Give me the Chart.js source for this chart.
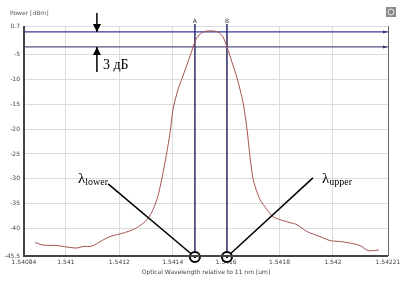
<!DOCTYPE html>
<html>
<head>
<meta charset="utf-8">
<script src="https://cdn.jsdelivr.net/npm/chart.js@4/dist/chart.umd.min.js"></script>
<style>
  html, body { margin: 0; padding: 0; background: #fff; }
  #wrap { width: 414px; height: 293px; }
</style>
</head>
<body>
<div id="wrap"><canvas id="c" width="414" height="293"></canvas></div>
<script>
// spectrum (wavelength in um, power in dBm)
const wavelength = [1.540884, 1.540914, 1.540967, 1.541004, 1.541041, 1.541064, 1.541098, 1.541128,
  1.541165, 1.541214, 1.541251, 1.541277, 1.541304, 1.541326, 1.541345, 1.541371, 1.541390,
  1.541401, 1.541420, 1.541435, 1.541465, 1.541483, 1.541495, 1.541513, 1.541532, 1.541551,
  1.541569, 1.541588, 1.541603, 1.541622, 1.541641, 1.541663, 1.541678, 1.541689, 1.541701,
  1.541715, 1.541727, 1.541753, 1.541775, 1.541802, 1.541839, 1.541865, 1.541903, 1.541951,
  1.541989, 1.542026, 1.542064, 1.542101, 1.542131, 1.542157, 1.542172];
const power = [-42.8, -43.3, -43.4, -43.7, -43.9, -43.6, -43.5, -42.6,
  -41.6, -40.9, -40.2, -39.4, -38.2, -36.2, -33.4, -26.7, -20.7,
  -16.0, -12.0, -9.8, -5.3, -2.5, -1.3, -0.5, -0.3, -0.3,
  -0.5, -1.5, -3.5, -6.6, -9.8, -14.6, -20.0, -25.5, -30.1,
  -32.6, -34.2, -36.2, -37.6, -38.2, -38.8, -39.2, -40.6, -41.6,
  -42.4, -42.6, -42.9, -43.4, -44.4, -44.4, -44.3];

// cursors
const cursorNames = ["A", "B"];
const cursorX = [1.541483, 1.541603];
const levelY = [-0.5, -3.5];

// axes
const xMin = 1.540843, xMax = 1.542206;
const yMin = -45.5, yMax = 0.7;
const xTicks = [1.540843, 1.541, 1.5412, 1.5414, 1.5416, 1.5418, 1.542, 1.542206];
const xTickLabels = ["1.54084", "1.541", "1.5412", "1.5414", "1.5416", "1.5418", "1.542", "1.54221"];
const yTicks = [0.7, -5, -10, -15, -20, -25, -30, -35, -40, -45.5];
const yTickLabels = ["0.7", "-5", "-10", "-15", "-20", "-25", "-30", "-35", "-40", "-45.5"];

const curve = wavelength.map((w, i) => ({ x: w, y: power[i] }));

const datasets = [
  {
    data: curve,
    borderColor: "#a5524e",
    borderWidth: 1,
    pointRadius: 0,
    tension: 0.25
  }
];
levelY.forEach((v, i) => {
  datasets.push({
    data: [{ x: xMin, y: v }, { x: xMax, y: v }],
    borderColor: i === 0 ? "#3b3b9c" : "#54547e",
    borderWidth: 1.2,
    pointRadius: 0
  });
});
cursorX.forEach(v => {
  datasets.push({
    data: [{ x: v, y: yMin }, { x: v, y: yMax + 0.4 }],
    borderColor: "#2c2c6e",
    borderWidth: 1.5,
    pointRadius: 0,
    clip: false
  });
});

const extras = {
  id: "extras",
  afterDraw(chart) {
    const ctx = chart.ctx;
    const xs = chart.scales.x, ys = chart.scales.y;
    const px = v => xs.getPixelForValue(v);
    const py = v => ys.getPixelForValue(v);
    const a = chart.chartArea;
    ctx.save();

    // axis title on y
    ctx.fillStyle = "#555";
    ctx.font = "6px 'DejaVu Sans'";
    ctx.textAlign = "left";
    ctx.textBaseline = "middle";
    ctx.fillText("Power [dBm]", 10, 13);

    // icon top right
    ctx.fillStyle = "#8a8a8a";
    ctx.fillRect(386, 7, 10, 10);
    ctx.strokeStyle = "#eee";
    ctx.lineWidth = 1;
    ctx.beginPath();
    ctx.arc(391, 12, 3, 0, Math.PI * 2);
    ctx.stroke();

    // cursor names
    ctx.fillStyle = "#333";
    ctx.font = "6px 'DejaVu Sans'";
    ctx.textAlign = "center";
    cursorNames.forEach((n, i) => ctx.fillText(n, px(cursorX[i]), a.top - 5));

    // small markers at right end of level lines
    ctx.fillStyle = "#2c2c6e";
    levelY.forEach(v => {
      const y = py(v);
      ctx.beginPath();
      ctx.moveTo(a.right - 1, y);
      ctx.lineTo(a.right - 5, y - 1.5);
      ctx.lineTo(a.right - 5, y + 1.5);
      ctx.closePath();
      ctx.fill();
    });

    // 3 dB arrow
    const ax = px(1.541116);
    const yTop = py(levelY[0]), yBot = py(levelY[1]);
    ctx.strokeStyle = "#000";
    ctx.fillStyle = "#000";
    ctx.lineWidth = 1.5;
    ctx.beginPath();
    ctx.moveTo(ax, yTop - 19);
    ctx.lineTo(ax, yTop);
    ctx.moveTo(ax, yBot);
    ctx.lineTo(ax, yBot + 25);
    ctx.stroke();
    ctx.beginPath();
    ctx.moveTo(ax, yTop);
    ctx.lineTo(ax - 4, yTop - 8);
    ctx.lineTo(ax + 4, yTop - 8);
    ctx.closePath();
    ctx.fill();
    ctx.beginPath();
    ctx.moveTo(ax, yBot);
    ctx.lineTo(ax - 4, yBot + 8);
    ctx.lineTo(ax + 4, yBot + 8);
    ctx.closePath();
    ctx.fill();
    ctx.font = "14px 'Liberation Serif'";
    ctx.textAlign = "left";
    ctx.textBaseline = "alphabetic";
    ctx.fillText("3 дБ", ax + 6, yBot + 22);

    // lambda labels with leader lines to the circles
    const labels = [
      { sub: "lower", tx: 1.541045, ty: -30.84, lx: 1.541158, ly: -31.0 },
      { sub: "upper", tx: 1.541959, ty: -30.84, lx: 1.541925, ly: -29.8 }
    ];
    labels.forEach((l, i) => {
      const cx = px(cursorX[i]), cy = a.bottom + 1;
      ctx.lineWidth = 1.5;
      ctx.beginPath();
      ctx.moveTo(px(l.lx), py(l.ly));
      ctx.lineTo(cx, cy);
      ctx.stroke();
      ctx.font = "15px 'Liberation Serif'";
      ctx.fillText("λ", px(l.tx), py(l.ty));
      const w = ctx.measureText("λ").width;
      ctx.font = "10px 'Liberation Serif'";
      ctx.fillText(l.sub, px(l.tx) + w, py(l.ty) + 2);
    });

    // circles on the axis
    cursorX.forEach(v => {
      const cx = px(v), cy = a.bottom + 1;
      ctx.lineWidth = 2;
      ctx.fillStyle = "#fff";
      ctx.beginPath();
      ctx.arc(cx, cy, 5, 0, Math.PI * 2);
      ctx.fill();
      ctx.stroke();
      ctx.fillStyle = "#000";
      ctx.fillRect(cx - 1, cy - 1, 2, 2);
    });

    // frame
    ctx.lineWidth = 1;
    ctx.strokeStyle = "#666";
    ctx.beginPath();
    ctx.moveTo(a.right + 0.5, a.top);
    ctx.lineTo(a.right + 0.5, a.bottom);
    ctx.stroke();
    ctx.strokeStyle = "#444";
    ctx.lineWidth = 2;
    ctx.beginPath();
    ctx.moveTo(a.left, a.top);
    ctx.lineTo(a.left, a.bottom);
    ctx.lineTo(a.right, a.bottom);
    ctx.stroke();
    ctx.restore();
  }
};

new Chart(document.getElementById("c"), {
  type: "line",
  data: { datasets: datasets },
  options: {
    responsive: false,
    animation: false,
    layout: { padding: { left: 0, top: 26, right: 26, bottom: 17 } },
    plugins: { legend: { display: false }, tooltip: { enabled: false } },
    scales: {
      x: {
        type: "linear",
        min: xMin,
        max: xMax,
        afterBuildTicks: s => { s.ticks = xTicks.map(v => ({ value: v })); },
        afterFit: s => { s.height = 20; },
        grid: { color: "#dcdcdc", lineWidth: 1, drawTicks: false },
        border: { display: false },
        ticks: {
          padding: 3,
          maxRotation: 0,
          autoSkip: false,
          color: "#444",
          font: { size: 6, family: "DejaVu Sans" },
          callback: (v, i) => xTickLabels[i]
        },
        title: {
          display: true,
          text: "Optical Wavelength relative to 11 nm [um]",
          color: "#444",
          font: { size: 6, family: "DejaVu Sans" },
          padding: { top: 2, bottom: 0 }
        }
      },
      y: {
        min: yMin,
        max: yMax,
        afterBuildTicks: s => { s.ticks = yTicks.map(v => ({ value: v })); },
        afterFit: s => { s.width = 24; },
        grid: { color: "#dcdcdc", lineWidth: 1, drawTicks: false },
        border: { display: false },
        ticks: {
          padding: 4,
          autoSkip: false,
          color: "#444",
          font: { size: 6, family: "DejaVu Sans" },
          callback: (v, i) => yTickLabels[i]
        }
      }
    }
  },
  plugins: [extras]
});
</script>
</body>
</html>
